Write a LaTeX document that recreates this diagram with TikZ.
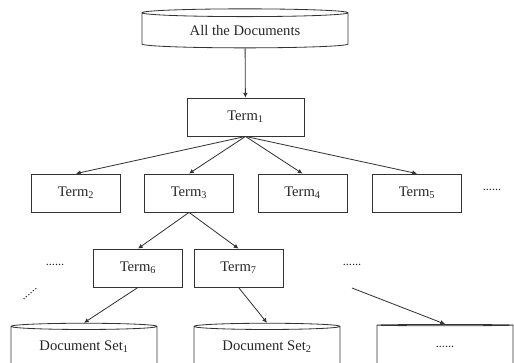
\documentclass[tikz,border=0pt]{standalone}
\usepackage{fontspec}
\setmainfont{Liberation Serif}
\usetikzlibrary{shapes.geometric,arrows.meta}

\tikzset{
  termbox/.style={draw=black!80, line width=0.7pt, rectangle, minimum width=2.67cm, minimum height=1.14cm, inner sep=0pt},
  docset/.style={draw=black!80, line width=0.7pt, cylinder, shape border rotate=90, aspect=0.07, inner sep=0pt, minimum width=4.38cm, minimum height=1.32cm},
  link/.style={draw=black!80, line width=0.7pt, -{Latex[length=4pt,width=4pt]}},
  more/.style={font=\fontsize{10.5}{11}\selectfont}
}

\begin{document}
\begin{tikzpicture}[x=0.03cm, y=-0.03cm, font=\fontsize{12.5}{15}\selectfont, text=black!85]
        \clip (0,0) rectangle (514,362);

        % the whole collection
        \node[docset, minimum width=6.18cm, minimum height=1.17cm] (all) at (245,30.5) {All the Documents};

        % terms
        \node[termbox, minimum width=3.51cm] (t1) at (245.5,117) {Term\textsubscript{1}};
        \node[termbox] (t2) at (76,193) {Term\textsubscript{2}};
        \node[termbox] (t3) at (189,193) {Term\textsubscript{3}};
        \node[termbox] (t4) at (302.5,193) {Term\textsubscript{4}};
        \node[termbox] (t5) at (417,193) {Term\textsubscript{5}};
        \node[termbox] (t6) at (138,268) {Term\textsubscript{6}};
        \node[termbox] (t7) at (238.5,268) {Term\textsubscript{7}};

        % document sets
        \node[docset] (d1) at (84,347) {Document Set\textsubscript{1}};
        \node[docset] (d2) at (267,347) {Document Set\textsubscript{2}};
        \node[docset, minimum width=4.08cm] (d3) at (445,347) {\fontsize{10.5}{11}\selectfont ......};

        % elided parts
        \node[more] (m1) at (492,190) {......};
        \node[more] (m2) at (55,265) {......};
        \node[more] (m3) at (352,265) {......};
        \node[more, rotate=40] (m4) at (30,294) {......};
        \coordinate (c3) at (352,288);

        \draw[link] (all) -- (t1);
        \foreach \t in {t2,t3,t4,t5}
          \draw[link] (t1.south) -- (\t.north);
        \draw[link] (t3.south) -- (t6.north);
        \draw[link] (t3.south) -- (t7.north);
        \draw[link] (t6.south) -- (d1.north);
        \draw[link] (t7.south) -- (d2.north);
        \draw[link] (c3) -- (d3.north);
\end{tikzpicture}
\end{document}
